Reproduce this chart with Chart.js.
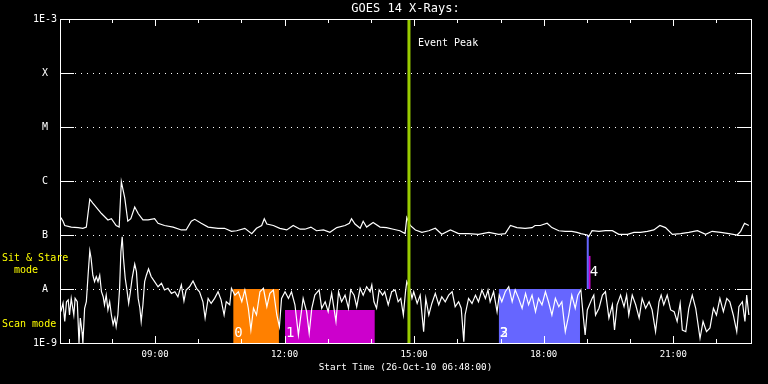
<!DOCTYPE html>
<html>
<head>
<meta charset="utf-8">
<script src="https://cdn.jsdelivr.net/npm/chart.js@4.4.1/dist/chart.umd.min.js"></script>
<style>
  body { margin: 0; background: #000; }
  canvas { display: block; }
</style>
</head>
<body>
<canvas id="goesChart" width="768" height="384"></canvas>
<script>
// GOES 14, 26-Oct-2010. Times are hours of the day, flux in W/m^2
const longHours = [6.82, 6.87, 6.91, 7.06, 7.22, 7.33, 7.41, 7.49, 7.56, 7.76, 7.91, 7.99,
  8.10, 8.17, 8.22, 8.30, 8.37, 8.44, 8.53, 8.61, 8.72, 8.84, 8.99, 9.07, 9.22, 9.42, 9.61,
  9.72, 9.84, 9.92, 10.07, 10.23, 10.46, 10.61, 10.77, 10.89, 11.08, 11.24, 11.35, 11.47,
  11.53, 11.59, 11.74, 11.89, 12.05, 12.20, 12.36, 12.47, 12.61, 12.74, 12.90, 13.05, 13.21,
  13.40, 13.50, 13.55, 13.63, 13.75, 13.82, 13.90, 14.05, 14.21, 14.36, 14.52, 14.67, 14.79,
  14.83, 14.91, 15.03, 15.18, 15.34, 15.49, 15.64, 15.84, 16.03, 16.26, 16.49, 16.73, 16.96,
  17.11, 17.23, 17.38, 17.57, 17.73, 17.80, 17.92, 18.08, 18.19, 18.35, 18.50, 18.65, 18.77,
  18.86, 19.01, 19.04, 19.12, 19.28, 19.43, 19.59, 19.74, 19.94, 20.09, 20.24, 20.40, 20.55,
  20.69, 20.82, 20.98, 21.17, 21.36, 21.56, 21.75, 21.90, 22.10, 22.29, 22.48, 22.56, 22.65, 22.75];
const longFlux = [2.1e-7, 1.8e-7, 1.5e-7, 1.4e-7, 1.37e-7, 1.33e-7, 1.4e-7, 4.6e-7, 3.9e-7, 2.5e-7, 1.9e-7, 2.0e-7,
  1.5e-7, 1.4e-7, 9.7e-7, 4.8e-7, 1.8e-7, 2.0e-7, 3.3e-7, 2.5e-7, 1.9e-7, 1.9e-7, 2.0e-7, 1.65e-7, 1.5e-7, 1.4e-7, 1.24e-7,
  1.24e-7, 1.8e-7, 1.95e-7, 1.65e-7, 1.4e-7, 1.33e-7, 1.33e-7, 1.17e-7, 1.2e-7, 1.33e-7, 1.06e-7, 1.33e-7, 1.5e-7,
  2.0e-7, 1.6e-7, 1.5e-7, 1.33e-7, 1.24e-7, 1.5e-7, 1.28e-7, 1.28e-7, 1.4e-7, 1.2e-7, 1.24e-7, 1.12e-7, 1.37e-7,
  1.5e-7, 1.65e-7, 2.0e-7, 1.6e-7, 1.33e-7, 1.8e-7, 1.4e-7, 1.7e-7, 1.4e-7, 1.37e-7, 1.28e-7, 1.2e-7, 1.06e-7,
  2.1e-7, 1.5e-7, 1.24e-7, 1.12e-7, 1.2e-7, 1.33e-7, 1.03e-7, 1.24e-7, 1.06e-7, 1.06e-7, 1.03e-7, 1.12e-7, 1.03e-7,
  1.06e-7, 1.5e-7, 1.37e-7, 1.33e-7, 1.37e-7, 1.5e-7, 1.5e-7, 1.65e-7, 1.37e-7, 1.2e-7, 1.17e-7, 1.17e-7, 1.12e-7,
  1.06e-7, 1.0e-7, 9.3e-8, 1.2e-7, 1.17e-7, 1.2e-7, 1.2e-7, 1.03e-7, 1.03e-7, 1.12e-7, 1.12e-7, 1.17e-7, 1.24e-7,
  1.5e-7, 1.37e-7, 1.03e-7, 1.06e-7, 1.12e-7, 1.2e-7, 1.03e-7, 1.17e-7, 1.12e-7, 1.06e-7, 1.0e-7, 1.17e-7, 1.65e-7, 1.5e-7];

const shortHours = [6.82, 6.87, 6.91, 6.95, 6.99, 7.02, 7.06, 7.12, 7.15, 7.20, 7.24, 7.27, 7.31, 7.33,
  7.37, 7.41, 7.45, 7.49, 7.52, 7.56, 7.60, 7.64, 7.68, 7.72, 7.76, 7.80, 7.83, 7.87, 7.91, 7.95,
  7.99, 8.03, 8.07, 8.10, 8.14, 8.18, 8.21, 8.24, 8.27, 8.31, 8.35, 8.39, 8.43, 8.47, 8.53, 8.57,
  8.61, 8.65, 8.68, 8.72, 8.76, 8.80, 8.85, 8.91, 8.99, 9.07, 9.15, 9.22, 9.30, 9.38, 9.46, 9.53,
  9.61, 9.67, 9.72, 9.80, 9.88, 9.96, 10.03, 10.11, 10.16, 10.23, 10.30, 10.38, 10.46, 10.53,
  10.60, 10.65, 10.73, 10.77, 10.85, 10.93, 11.01, 11.08, 11.16, 11.22, 11.28, 11.35, 11.43,
  11.51, 11.59, 11.66, 11.74, 11.82, 11.88, 11.93, 12.01, 12.09, 12.16, 12.24, 12.32, 12.37,
  12.43, 12.51, 12.57, 12.63, 12.70, 12.80, 12.86, 12.94, 13.01, 13.09, 13.19, 13.25, 13.32,
  13.40, 13.48, 13.53, 13.61, 13.67, 13.75, 13.82, 13.90, 13.98, 14.02, 14.07, 14.13, 14.19,
  14.27, 14.32, 14.40, 14.48, 14.56, 14.63, 14.69, 14.75, 14.80, 14.83, 14.91, 14.95, 14.99,
  15.07, 15.14, 15.22, 15.27, 15.34, 15.41, 15.49, 15.57, 15.64, 15.72, 15.80, 15.88, 15.95,
  16.03, 16.09, 16.15, 16.18, 16.26, 16.34, 16.42, 16.49, 16.57, 16.65, 16.71, 16.76, 16.84,
  16.92, 16.97, 17.03, 17.11, 17.19, 17.27, 17.34, 17.42, 17.50, 17.58, 17.65, 17.73, 17.81,
  17.88, 17.96, 18.04, 18.11, 18.19, 18.27, 18.35, 18.42, 18.50, 18.58, 18.65, 18.73, 18.79,
  18.86, 18.92, 18.96, 19.01, 19.12, 19.16, 19.20, 19.28, 19.36, 19.43, 19.51, 19.59, 19.64,
  19.70, 19.78, 19.86, 19.92, 19.97, 20.05, 20.13, 20.21, 20.28, 20.36, 20.44, 20.51, 20.59,
  20.67, 20.72, 20.78, 20.86, 20.94, 21.02, 21.09, 21.16, 21.21, 21.29, 21.36, 21.44, 21.52,
  21.62, 21.69, 21.77, 21.85, 21.93, 22.00, 22.08, 22.16, 22.24, 22.31, 22.39, 22.47, 22.52,
  22.60, 22.66, 22.70, 22.75];
const shortFlux = [3.8e-9, 5.5e-9, 2.5e-9, 5.8e-9, 6.3e-9, 3.3e-9, 6.7e-9, 3.3e-9, 6.7e-9, 5.8e-9, 1.0e-9, 2.9e-9, 1.6e-9, 1.0e-9,
  4.4e-9, 5.8e-9, 1.8e-8, 5.1e-8, 3.7e-8, 1.8e-8, 1.37e-8, 1.7e-8, 1.37e-8, 1.8e-8, 8.9e-9, 7.2e-9, 5.1e-9, 7.7e-9, 4.1e-9, 5.8e-9,
  3.3e-9, 2.2e-9, 2.9e-9, 2.0e-9, 3.3e-9, 1.03e-8, 4.9e-8, 9.3e-8, 3.7e-8, 1.58e-8, 9.6e-9, 5.4e-9, 8.9e-9, 1.58e-8, 2.9e-8, 2.1e-8,
  6.7e-9, 4.4e-9, 2.5e-9, 5.1e-9, 1.37e-8, 1.8e-8, 2.35e-8, 1.7e-8, 1.37e-8, 1.1e-8, 1.28e-8, 9.6e-9, 1.03e-8, 8.3e-9, 8.9e-9, 7.2e-9,
  1.19e-8, 6.0e-9, 9.6e-9, 1.1e-8, 1.41e-8, 1.03e-8, 8.9e-9, 5.8e-9, 2.9e-9, 6.7e-9, 5.4e-9, 6.7e-9, 8.9e-9, 6.3e-9,
  3.3e-9, 5.8e-9, 5.1e-9, 1.03e-8, 7.7e-9, 8.9e-9, 5.8e-9, 9.6e-9, 4.4e-9, 1.74e-9, 4.4e-9, 3.3e-9, 8.9e-9,
  1.03e-8, 4.7e-9, 8.3e-9, 9.6e-9, 3.3e-9, 2.0e-9, 6.7e-9, 8.9e-9, 6.7e-9, 8.9e-9, 5.1e-9, 1.41e-9, 2.9e-9,
  6.7e-9, 3.8e-9, 1.51e-9, 4.4e-9, 7.7e-9, 9.6e-9, 4.4e-9, 5.8e-9, 3.8e-9, 8.3e-9, 2.5e-9, 8.9e-9, 5.8e-9,
  7.7e-9, 4.4e-9, 9.6e-9, 7.7e-9, 4.7e-9, 1.03e-8, 7.7e-9, 1.1e-8, 8.9e-9, 1.19e-8, 5.8e-9, 4.4e-9, 9.6e-9,
  7.7e-9, 8.9e-9, 5.1e-9, 8.9e-9, 9.6e-9, 5.8e-9, 6.7e-9, 3.3e-9, 8.9e-9, 1.37e-8, 9.6e-9, 6.7e-9, 8.9e-9,
  5.4e-9, 7.7e-9, 1.62e-9, 6.7e-9, 3.3e-9, 5.4e-9, 8.3e-9, 5.1e-9, 7.2e-9, 5.8e-9, 7.7e-9, 8.9e-9, 4.7e-9,
  5.8e-9, 4.4e-9, 1.06e-9, 3.3e-9, 6.7e-9, 5.4e-9, 7.7e-9, 5.8e-9, 9.6e-9, 6.7e-9, 9.6e-9, 5.8e-9, 8.9e-9,
  3.8e-9, 7.7e-9, 5.8e-9, 8.9e-9, 1.1e-8, 5.8e-9, 9.6e-9, 6.7e-9, 4.4e-9, 8.3e-9, 5.1e-9, 7.7e-9, 3.8e-9,
  6.7e-9, 5.1e-9, 8.9e-9, 5.8e-9, 3.3e-9, 6.7e-9, 4.7e-9, 5.8e-9, 1.62e-9, 3.3e-9, 7.7e-9, 4.4e-9, 7.7e-9,
  9.6e-9, 2.9e-9, 1.41e-9, 4.1e-9, 6.7e-9, 7.7e-9, 3.3e-9, 4.4e-9, 7.7e-9, 8.9e-9, 2.9e-9, 5.1e-9, 1.74e-9,
  5.1e-9, 7.7e-9, 4.7e-9, 7.7e-9, 3.3e-9, 7.7e-9, 5.1e-9, 2.9e-9, 6.7e-9, 4.4e-9, 5.8e-9, 4.1e-9, 1.62e-9,
  5.8e-9, 7.7e-9, 5.1e-9, 7.7e-9, 4.1e-9, 3.8e-9, 2.5e-9, 5.4e-9, 1.74e-9, 1.62e-9, 4.4e-9, 7.7e-9, 4.4e-9,
  1.22e-9, 2.5e-9, 1.62e-9, 1.9e-9, 4.4e-9, 3.3e-9, 6.7e-9, 3.8e-9, 6.7e-9, 5.8e-9, 3.3e-9, 1.62e-9, 4.7e-9,
  5.8e-9, 2.5e-9, 7.7e-9, 3.3e-9];

const yTickValues = [1e-9, 1e-8, 1e-7, 1e-6, 1e-5, 1e-4, 1e-3];
const yTickLabels = ['1E-9', 'A', 'B', 'C', 'M', 'X', '1E-3'];
const gridLevels = [1e-8, 1e-7, 1e-6, 1e-5, 1e-4];
const xTickHours = [7, 8, 9, 10, 11, 12, 13, 14, 15, 16, 17, 18, 19, 20, 21, 22];

// scan mode observations (boxes in the lower band)
const boxLabels = ['3', '2', '1', '0'];
const boxStart = [16.96, 16.96, 12.01, 10.81];
const boxEnd = [18.84, 18.84, 14.09, 11.87];
const boxTop = [1e-8, 1e-8, 4.1e-9, 1e-8];
const boxColors = ['#6666ff', '#6666ff', '#cc00cc', '#ff8000'];

// sit & stare observation 4
const stareHours = [19.02, 19.06];
const stareTop = [1e-7, 4.1e-8];
const stareColors = ['#6666ff', '#cc00cc'];

const eventPeakHour = 14.88;

const FONT = "'DejaVu Sans Mono', monospace";

function toPoints(xs, ys) {
  return xs.map((x, i) => ({ x: x, y: ys[i] }));
}

const datasets = [
  {
    data: [{ x: eventPeakHour, y: 1e-9 }, { x: eventPeakHour, y: 1e-3 }],
    borderColor: '#99cc00', borderWidth: 3, pointRadius: 0, order: 0
  },
  {
    data: toPoints(longHours, longFlux),
    borderColor: '#fff', borderWidth: 1.2, pointRadius: 0, order: 1
  },
  {
    data: toPoints(shortHours, shortFlux),
    borderColor: '#fff', borderWidth: 1.2, pointRadius: 0, order: 2
  }
];
stareHours.forEach((h, i) => {
  datasets.push({
    data: [{ x: h, y: 1e-8 }, { x: h, y: stareTop[i] }],
    borderColor: stareColors[i], borderWidth: 2, pointRadius: 0, order: 3 + i
  });
});
boxStart.forEach((s, i) => {
  datasets.push({
    data: [{ x: s, y: boxTop[i] }, { x: boxEnd[i], y: boxTop[i] }],
    borderColor: 'rgba(0,0,0,0)', borderWidth: 0, pointRadius: 0,
    backgroundColor: boxColors[i], fill: 'start', order: 10 + i
  });
});

const decorations = {
  id: 'decorations',
  beforeDatasetsDraw(chart) {
    const { ctx, chartArea: a, scales: { y } } = chart;
    ctx.save();
    ctx.strokeStyle = '#fff';
    ctx.lineWidth = 1;
    ctx.setLineDash([1, 5]);
    gridLevels.forEach(v => {
      const py = Math.round(y.getPixelForValue(v)) + 0.5;
      ctx.beginPath();
      ctx.moveTo(a.left + 15, py);
      ctx.lineTo(a.right - 15, py);
      ctx.stroke();
    });
    ctx.restore();
  },
  afterDatasetsDraw(chart) {
    const { ctx, chartArea: a, scales: { x, y } } = chart;
    ctx.save();
    ctx.strokeStyle = '#fff';
    ctx.lineWidth = 1;
    // frame
    ctx.strokeRect(Math.round(a.left) + 0.5, Math.round(a.top) + 0.5,
      Math.round(a.right - a.left), Math.round(a.bottom - a.top));
    // time ticks, drawn inward
    ctx.beginPath();
    xTickHours.forEach(h => {
      const px = Math.round(x.getPixelForValue(h)) + 0.5;
      const len = h % 3 === 0 ? 7 : 4;
      ctx.moveTo(px, a.bottom); ctx.lineTo(px, a.bottom - len);
      ctx.moveTo(px, a.top); ctx.lineTo(px, a.top + len);
    });
    // level ticks on both sides
    gridLevels.forEach(v => {
      const py = Math.round(y.getPixelForValue(v)) + 0.5;
      ctx.moveTo(a.left, py); ctx.lineTo(a.left + 14, py);
      ctx.moveTo(a.right, py); ctx.lineTo(a.right - 14, py);
    });
    ctx.stroke();

    // mode labels
    ctx.fillStyle = '#ffff00';
    ctx.font = '10px ' + FONT;
    ctx.textAlign = 'left';
    ctx.textBaseline = 'middle';
    const yB = y.getPixelForValue(1e-7);
    const yA = y.getPixelForValue(1e-8);
    ctx.fillText('Sit & Stare', 2, yB + 23);
    ctx.fillText('  mode', 2, yB + 35);
    ctx.fillText('Scan mode', 2, yA + 35);

    // observation numbers
    ctx.fillStyle = '#fff';
    ctx.font = '14px ' + FONT;
    boxStart.forEach((s, i) => {
      ctx.fillText(boxLabels[i], x.getPixelForValue(s) + 1, a.bottom - 10);
    });
    ctx.fillText('4', x.getPixelForValue(stareHours[0]) + 2, yA - 17);

    // event peak label
    ctx.font = '10px ' + FONT;
    ctx.fillText('Event Peak', x.getPixelForValue(eventPeakHour) + 9, 43);
    ctx.restore();
  }
};

new Chart(document.getElementById('goesChart'), {
  type: 'line',
  data: { datasets: datasets },
  options: {
    responsive: false,
    animation: false,
    events: [],
    layout: { padding: { right: 17 } },
    plugins: {
      legend: { display: false },
      tooltip: { enabled: false },
      title: {
        display: true,
        text: 'GOES 14 X-Rays:',
        color: '#fff',
        fullSize: false,
        font: { family: FONT, size: 12, weight: 'normal', lineHeight: '14px' },
        padding: { top: 2, bottom: 3 }
      }
    },
    scales: {
      x: {
        type: 'linear',
        min: 6.8,
        max: 22.8,
        grid: { display: false, drawTicks: false },
        border: { display: false },
        afterBuildTicks: (scale) => { scale.ticks = xTickHours.map(h => ({ value: h })); },
        afterFit: (scale) => { scale.height = 41; },
        ticks: {
          autoSkip: false,
          maxRotation: 0,
          color: '#fff',
          padding: 6,
          font: { family: FONT, size: 9 },
          callback: (v) => v % 3 === 0 ? String(v).padStart(2, '0') + ':00' : ''
        },
        title: {
          display: true,
          text: 'Start Time (26-Oct-10 06:48:00)',
          color: '#fff',
          font: { family: FONT, size: 9.3, lineHeight: '14px' },
          padding: { top: 0, bottom: 9 }
        }
      },
      y: {
        type: 'logarithmic',
        min: 1e-9,
        max: 1e-3,
        grid: { display: false, drawTicks: false },
        border: { display: false },
        afterBuildTicks: (scale) => { scale.ticks = yTickValues.map(v => ({ value: v })); },
        afterFit: (scale) => { scale.width = 60; },
        ticks: {
          color: '#fff',
          padding: 3,
          crossAlign: 'center',
          font: { family: FONT, size: 10 },
          callback: (v, i) => yTickLabels[i]
        }
      }
    }
  },
  plugins: [decorations]
});
</script>
</body>
</html>
